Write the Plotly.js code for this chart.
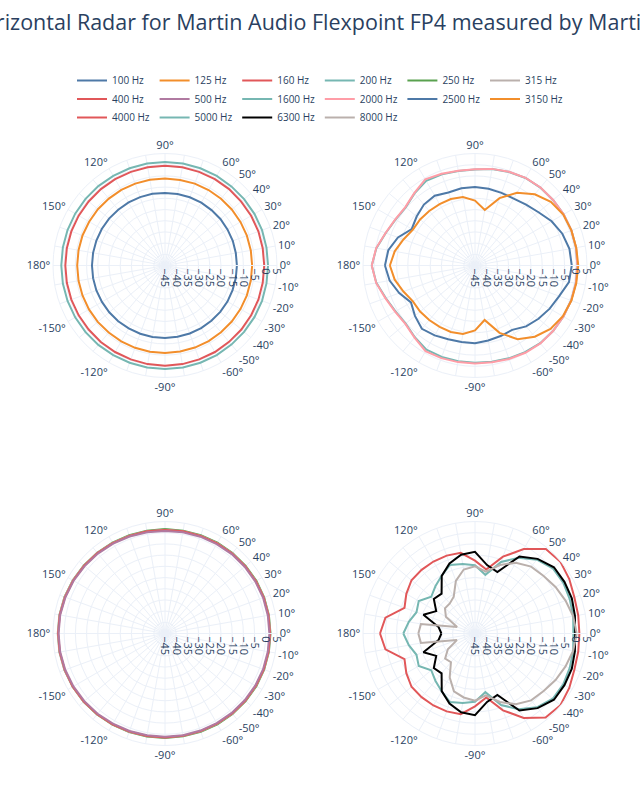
<!DOCTYPE html>
<html>
<head>
<meta charset="utf-8">
<script src="https://cdn.plot.ly/plotly-3.0.1.min.js"></script>
<style>html,body{margin:0;padding:0;background:#fff;overflow:hidden}#chart{width:640px;height:800px}</style>
</head>
<body>
<div id="chart"></div>
<script>
// angles in degrees (closed contour: -180 ... 180)
const angles = [-180,-170,-160,-150,-140,-130,-120,-110,-100,-90,-80,-70,-60,-50,-40,-30,-20,-10,0,10,20,30,40,50,60,70,80,90,100,110,120,130,140,150,160,170,180];

const angleTicks = [0,10,20,30,40,50,60,70,80,90,100,110,120,130,140,150,160,170,180,190,200,210,220,230,240,250,260,270,280,290,300,310,320,330,340,350];
const angleTickText = ["0°","10°","20°","30°","40°","50°","60°","","","90°","","","120°","","","150°","","","180°","","","-150°","","","-120°","","","-90°","","","-60°","-50°","-40°","-30°","-20°","-10°"];

const radialTicks = [-45,-40,-35,-30,-25,-20,-15,-10,-5,0,5];

const seriesNames = ["100 Hz","125 Hz","160 Hz","200 Hz","250 Hz","315 Hz","400 Hz","500 Hz","1600 Hz","2000 Hz","2500 Hz","3150 Hz","4000 Hz","5000 Hz","6300 Hz","8000 Hz"];
const seriesColors = ["#4e79a7","#f28e2b","#e15759","#76b7b2","#59a14f","#bab0ac","#e15759","#b07aa1","#76b7b2","#ff9da7","#4e79a7","#f28e2b","#e15759","#76b7b2","#000000","#bab0ac"];
const seriesPolar = ["polar","polar","polar","polar","polar3","polar3","polar3","polar3","polar2","polar2","polar2","polar2","polar4","polar4","polar4","polar4"];
const seriesLegendRow = ["legend","legend","legend","legend","legend","legend","legend2","legend2","legend2","legend2","legend2","legend2","legend3","legend3","legend3","legend3"];

const db100 = [-12.4,-12.4,-12.4,-12.5,-12.5,-12.5,-12.6,-12.6,-12.6,-12.6,-12.7,-12.7,-12.7,-12.8,-12.8,-12.8,-12.9,-12.9,-12.9,-12.9,-12.8,-12.8,-12.7,-12.7,-12.6,-12.6,-12.6,-12.6,-12.5,-12.5,-12.5,-12.5,-12.4,-12.4,-12.4,-12.4,-12.4];
const db125 = [-5.8,-5.8,-5.8,-5.8,-5.8,-5.9,-5.9,-5.9,-5.9,-5.9,-6.0,-6.0,-6.0,-6.1,-6.1,-6.1,-6.1,-6.1,-6.1,-6.1,-6.1,-6.1,-6.1,-6.1,-6.1,-6.1,-6.2,-6.2,-6.1,-6.1,-6.0,-6.0,-5.9,-5.9,-5.8,-5.8,-5.8];
const db160 = [-0.5,-0.5,-0.5,-0.5,-0.5,-0.4,-0.4,-0.4,-0.3,-0.3,-0.3,-0.4,-0.4,-0.5,-0.5,-0.6,-0.6,-0.7,-0.7,-0.7,-0.6,-0.6,-0.6,-0.5,-0.5,-0.5,-0.5,-0.5,-0.5,-0.5,-0.5,-0.5,-0.5,-0.5,-0.5,-0.5,-0.5];
const db200 = [1.3,1.3,1.3,1.3,1.3,1.3,1.2,1.2,1.2,1.2,1.2,1.2,1.2,1.1,1.1,1.1,1.1,1.0,1.0,1.0,1.1,1.1,1.1,1.1,1.2,1.2,1.2,1.2,1.2,1.2,1.2,1.3,1.3,1.3,1.3,1.3,1.3];
const db250 = [2.8,2.8,2.7,2.6,2.4,2.2,2.0,1.8,1.7,1.6,1.6,1.7,1.8,1.9,2.0,2.1,2.1,2.1,2.1,2.1,2.1,2.1,2.0,1.9,1.8,1.7,1.6,1.6,1.6,1.7,1.9,2.1,2.3,2.5,2.7,2.8,2.8];
const db315 = [2.9,2.9,2.8,2.6,2.4,2.1,1.9,1.7,1.5,1.4,1.4,1.5,1.6,1.7,1.8,1.9,2.0,2.0,2.0,2.0,2.0,1.9,1.8,1.7,1.6,1.5,1.4,1.3,1.4,1.5,1.7,2.0,2.2,2.5,2.7,2.9,2.9];
const db400 = [2.7,2.7,2.6,2.5,2.3,2.1,1.8,1.6,1.5,1.4,1.4,1.4,1.5,1.6,1.7,1.8,1.9,1.9,1.9,1.9,1.9,1.8,1.7,1.6,1.5,1.4,1.3,1.2,1.3,1.4,1.6,1.9,2.1,2.3,2.5,2.7,2.7];
const db500 = [2.5,2.5,2.4,2.2,2.0,1.8,1.5,1.3,1.1,1.1,1.1,1.1,1.2,1.3,1.4,1.5,1.6,1.6,1.6,1.6,1.6,1.5,1.4,1.3,1.1,1.0,0.9,0.8,0.9,1.1,1.3,1.6,1.8,2.1,2.3,2.5,2.5];
const db1600 = [1.1,-0.3,-2.6,-4.0,-4.6,-3.2,-1.6,-1.6,-1.6,-1.6,-1.4,-0.9,-0.3,0.3,0.5,0.6,0.7,0.7,0.7,0.8,0.8,0.7,0.5,0.4,0.1,-0.6,-1.3,-2.1,-2.2,-1.7,-1.4,-3.0,-4.6,-4.0,-2.6,-0.3,1.1];
const db2000 = [1.1,-0.2,-2.4,-3.8,-4.4,-3.0,-0.8,-1.0,-1.2,-1.3,-1.1,-0.6,0.0,0.4,0.5,0.6,0.7,0.7,0.7,0.8,0.8,0.7,0.5,0.5,0.2,-0.5,-1.2,-2.0,-2.1,-1.4,-0.6,-2.8,-4.4,-3.9,-2.5,-0.2,1.1];
const db2500 = [-4.8,-6.3,-9.0,-12.0,-10.0,-8.1,-9.0,-10.0,-10.3,-10.3,-11.0,-11.5,-11.8,-9.5,-8.0,-6.5,-5.0,-2.4,-1.8,-2.2,-3.5,-5.5,-8.0,-9.5,-10.5,-10.5,-10.2,-10.0,-10.0,-10.3,-9.0,-9.5,-11.0,-12.4,-8.4,-5.7,-4.8];
const db3150 = [-7.0,-8.6,-11.0,-13.0,-13.0,-13.2,-13.4,-13.4,-14.0,-16.0,-20.3,-13.0,-7.0,-3.5,-1.0,0.3,0.8,0.9,1.1,0.9,0.8,0.5,-0.8,-3.5,-7.5,-13.0,-19.8,-16.0,-14.0,-13.4,-13.4,-13.2,-13.0,-13.0,-11.0,-8.6,-7.0];
const db4000 = [-2.6,-4.4,-11.5,-9.6,-8.0,-7.9,-7.9,-8.0,-8.4,-12.5,-16.0,-8.5,-1.5,4.0,4.8,3.6,2.2,1.8,1.6,1.8,2.2,3.6,4.8,4.2,-1.5,-8.5,-16.0,-12.5,-8.4,-8.0,-7.9,-7.9,-8.0,-9.6,-11.5,-4.4,-2.6];
const db5000 = [-13.0,-15.0,-17.2,-16.0,-19.5,-17.5,-15.2,-12.4,-13.5,-14.5,-18.4,-11.0,-6.0,-2.0,0.3,0.5,0.0,-0.5,-1.1,-0.5,0.0,0.5,0.3,-2.0,-6.0,-11.0,-18.4,-14.5,-13.5,-12.4,-15.2,-17.5,-19.5,-16.0,-17.2,-15.0,-13.0];
const db6300 = [-30.0,-28.5,-20.5,-25.0,-21.0,-21.8,-15.3,-11.7,-9.3,-8.5,-14.0,-15.8,-5.3,-1.5,1.0,1.1,1.0,0.3,-0.3,0.3,1.0,1.1,1.0,-1.5,-5.3,-15.8,-14.0,-8.5,-9.3,-11.7,-15.3,-21.8,-21.0,-25.0,-20.5,-28.5,-30.0];
const db8000 = [-19.7,-20.5,-36.4,-31.0,-27.6,-28.3,-22.4,-17.5,-16.0,-15.0,-17.0,-12.5,-8.5,-6.0,-5.0,-3.5,-2.0,-0.5,0.4,-0.5,-2.0,-3.5,-5.0,-6.0,-8.5,-12.5,-17.0,-15.0,-16.0,-20.0,-26.0,-27.5,-27.5,-30.0,-36.5,-20.5,-19.7];

const seriesValues = [db100,db125,db160,db200,db250,db315,db400,db500,db1600,db2000,db2500,db3150,db4000,db5000,db6300,db8000];

const traces = seriesNames.map((name, i) => ({
  type: 'scatterpolar',
  mode: 'lines',
  r: seriesValues[i],
  theta: angles,
  name: name,
  subplot: seriesPolar[i],
  legend: seriesLegendRow[i],
  line: {color: seriesColors[i], width: 2}
}));

const gridC = '#EBF0F8';
function polarCfg(xd, yd) {
  return {
    domain: {x: xd, y: yd},
    bgcolor: '#ffffff',
    radialaxis: {
      range: [-45, 5], tickmode: 'array', tickvals: radialTicks,
      gridcolor: gridC, linecolor: gridC, showline: true, ticks: '',
      tickangle: 90, tickfont: {size: 11}
    },
    angularaxis: {
      tickmode: 'array', tickvals: angleTicks, ticktext: angleTickText,
      gridcolor: gridC, linecolor: gridC, showline: true, ticks: '',
      tickfont: {size: 11}
    }
  };
}

function legendRow(topPx) {
  return {
    orientation: 'h', xref: 'container', x: 72 / 640, xanchor: 'left',
    yref: 'container', y: 1 - topPx / 800, yanchor: 'top',
    entrywidth: 37.6, font: {size: 10}, bgcolor: 'rgba(0,0,0,0)'
  };
}

const W = 640, H = 800, TOP = 140;
const PW = W, PH = H - TOP;
const R = 112 / PW, Ry = 112 / PH;
const cxL = 165 / PW, cxR = 475 / PW;
const cyT = (H - 265.5) / PH, cyB = (H - 633.5) / PH;

const layout = {
  width: W, height: H,
  paper_bgcolor: '#ffffff',
  font: {family: '"Open Sans", verdana, arial, sans-serif', color: '#2a3f5f', size: 12},
  margin: {l: 0, r: 0, t: TOP, b: 0},
  title: {
    text: 'Horizontal Radar for Martin Audio Flexpoint FP4 measured by Martin Audio',
    font: {size: 21.5, color: '#2a3f5f'},
    x: 342.7 / W, xanchor: 'center', xref: 'container',
    y: 1 - 22 / H, yanchor: 'middle', yref: 'container'
  },
  showlegend: true,
  legend: legendRow(66),
  legend2: legendRow(84.5),
  legend3: legendRow(103),
  polar: polarCfg([cxL - R, cxL + R], [cyT - Ry, cyT + Ry]),
  polar2: polarCfg([cxR - R, cxR + R], [cyT - Ry, cyT + Ry]),
  polar3: polarCfg([cxL - R, cxL + R], [cyB - Ry, cyB + Ry]),
  polar4: polarCfg([cxR - R, cxR + R], [cyB - Ry, cyB + Ry])
};

Plotly.newPlot('chart', traces, layout, {displayModeBar: false, responsive: false});
</script>
</body>
</html>
